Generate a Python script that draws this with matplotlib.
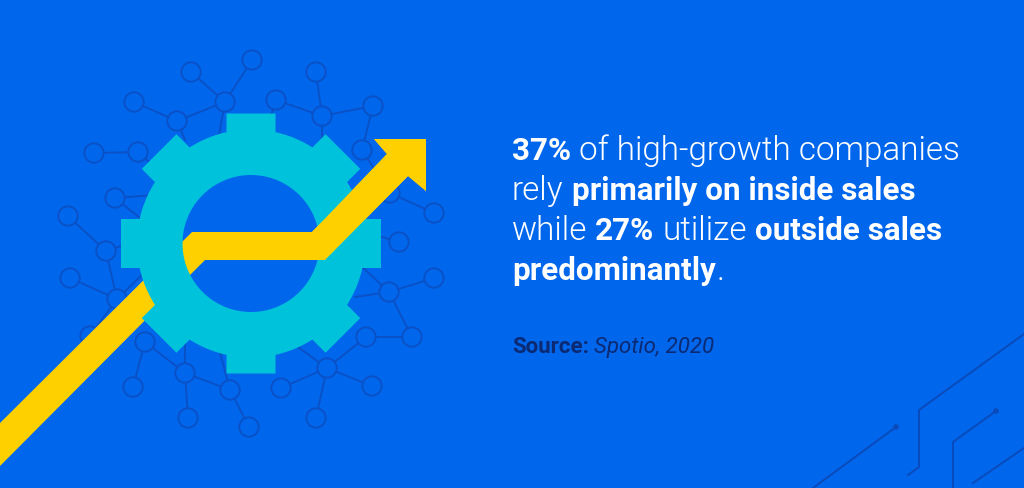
import numpy as np
import matplotlib
matplotlib.use('Agg')
import matplotlib.pyplot as plt
from matplotlib.patches import Circle, PathPatch, Polygon
from matplotlib.path import Path

BG = '#0066EC'
RING = '#0B50C4'
TRACE = '#0A4BBB'
TEAL = '#00C3DB'
YELLOW = '#FFD000'
DARK = '#0B2A73'

# network behind the gear, in picture pixels
nodes = [(191, 72), (225, 102), (252, 60), (134, 102), (177, 121), (94, 153), (138, 152),
         (115, 198), (68, 216), (106, 251), (276, 100), (316, 72), (322, 116), (373, 106),
         (362, 150), (390, 193), (434, 213), (399, 242), (70, 278), (117, 299), (90, 336),
         (145, 342), (133, 387), (185, 373), (188, 418), (230, 390), (249, 427), (434, 278),
         (389, 292), (412, 337), (366, 337), (327, 368), (281, 388), (372, 386), (316, 418)]
links = [((191, 72), (225, 102)), ((252, 60), (225, 102)), ((225, 102), (177, 121)),
         ((134, 102), (177, 121)), ((225, 102), (219, 135)), ((177, 121), (185, 140)),
         ((94, 153), (138, 152)), ((138, 152), (158, 170)), ((115, 198), (155, 195)),
         ((115, 198), (145, 222)), ((68, 216), (106, 251)), ((106, 251), (130, 243)),
         ((276, 100), (322, 116)), ((276, 100), (268, 125)), ((316, 72), (322, 116)),
         ((322, 116), (373, 106)), ((322, 116), (322, 145)), ((373, 106), (362, 150)),
         ((362, 150), (390, 193)), ((390, 193), (434, 213)), ((399, 242), (375, 235)),
         ((106, 251), (117, 299)), ((70, 278), (117, 299)), ((117, 299), (145, 272)),
         ((117, 299), (90, 336)), ((145, 342), (185, 373)), ((145, 342), (133, 387)),
         ((185, 373), (188, 418)), ((185, 373), (230, 390)), ((185, 373), (185, 340)),
         ((230, 390), (218, 345)), ((230, 390), (249, 427)), ((434, 278), (389, 292)),
         ((389, 292), (412, 337)), ((412, 337), (366, 337)), ((366, 337), (327, 368)),
         ((389, 292), (355, 297)), ((389, 292), (360, 265)), ((327, 368), (281, 388)),
         ((327, 368), (372, 386)), ((327, 368), (316, 418)), ((327, 368), (295, 345))]

# gear
gear_center = (251, 243.5)
gear_teeth = 8
gear_outer = 130
gear_body = 114
gear_hole = 68.5
tooth_half = 24.5

# arrow outline
arrow = [(0, 423), (192, 232), (312, 232), (387, 154), (374, 139), (426, 139), (426, 191),
         (408, 176), (325, 260), (205, 260), (0, 466)]
arrow_front = [(250, 232), (312, 232), (387, 154), (374, 139), (426, 139), (426, 191),
               (408, 176), (325, 260), (250, 260)]

# circuit traces, bottom right
traces = [[(1024, 334), (919, 410), (919, 467), (908, 475)],
          [(996, 411), (953, 442), (953, 488)],
          [(896, 427), (813, 488)],
          [(1024, 448), (973, 483)]]
trace_dots = [(996, 411), (896, 427)]

# text, one list of (string, bold) runs per line
text_lines = [[('37%', True), ('of high-growth companies', False)],
              [('rely', False), ('primarily on inside sales', True)],
              [('while', False), ('27%', True), ('utilize', False), ('outside sales', True)],
              [('predominantly', True), ('.', False)]]
line_baselines = [160, 200, 240, 280]
source_label = 'Source:'
source_name = 'Spotio, 2020'


def gear_path():
    cx, cy = gear_center
    verts = []
    for i in range(gear_teeth):
        a = 2 * np.pi * i / gear_teeth
        step = np.pi / gear_teeth
        u = np.array([np.cos(a), np.sin(a)])
        v = np.array([-u[1], u[0]])
        root = np.sqrt(gear_body ** 2 - tooth_half ** 2)
        verts.append(u * root - v * tooth_half)
        verts.append(u * gear_outer - v * tooth_half)
        verts.append(u * gear_outer + v * tooth_half)
        verts.append(u * root + v * tooth_half)
        # body arc up to the next tooth
        start = a + np.arcsin(tooth_half / gear_body)
        end = a + 2 * step - np.arcsin(tooth_half / gear_body)
        for t in np.linspace(start, end, 12):
            verts.append(np.array([np.cos(t), np.sin(t)]) * gear_body)
    verts = [(p[0] + cx, p[1] + cy) for p in verts]
    t = np.linspace(0, -2 * np.pi, 120)
    hole = list(zip(cx + gear_hole * np.cos(t), cy + gear_hole * np.sin(t)))
    codes = [Path.MOVETO] + [Path.LINETO] * (len(verts) - 1) + [Path.CLOSEPOLY]
    codes += [Path.MOVETO] + [Path.LINETO] * (len(hole) - 1) + [Path.CLOSEPOLY]
    return Path(verts + [verts[0]] + hole + [hole[0]], codes)


fig = plt.figure(figsize=(10.24, 4.88), dpi=100, facecolor=BG)
ax = fig.add_axes([0, 0, 1, 1])
ax.set_xlim(0, 1024)
ax.set_ylim(488, 0)
ax.axis('off')

# Network
for a, b in links:
    ax.plot([a[0], b[0]], [a[1], b[1]], color=RING, lw=1.3, zorder=1)
for n in nodes:
    ax.add_patch(Circle(n, 9.7, fc=BG, ec=RING, lw=1.3, zorder=2))

# Traces
for t in traces:
    ax.plot(*zip(*t), color=TRACE, lw=1.4, zorder=1)
for d in trace_dots:
    ax.add_patch(Circle(d, 2.8, fc=TRACE, ec='none', zorder=1))

# Arrow runs behind the gear on the left, over it on the right
ax.add_patch(Polygon(arrow, closed=True, fc=YELLOW, ec='none', zorder=3))
ax.add_patch(PathPatch(gear_path(), fc=TEAL, ec='none', zorder=4))
ax.add_patch(Polygon(arrow_front, closed=True, fc=YELLOW, ec='none', zorder=5))

# Text
renderer = fig.canvas.get_renderer()
BOLD_PX = 31.4
LIGHT_PX = 33.3
SPACE = 8


def put_run(x, y, s, weight, size, color, style='normal'):
    t = ax.text(x, y, s, family='Roboto', weight=weight, style=style, fontsize=size,
                color=color, va='baseline', ha='left', zorder=6)
    return x + t.get_window_extent(renderer).width


for runs, y in zip(text_lines, line_baselines):
    x = 512
    for i, (s, bold) in enumerate(runs):
        if bold:
            x = put_run(x, y, s, 'bold', BOLD_PX * 0.72, 'white')
        else:
            x = put_run(x, y, s, 300, LIGHT_PX * 0.72, 'white')
        if i + 1 < len(runs) and runs[i + 1][0] != '.':
            x += SPACE
        elif i + 1 < len(runs):
            x += 1

x = put_run(512, 353, source_label, 'bold', 22.3 * 0.72, DARK)
put_run(x + 5, 353, source_name, 400, 22.3 * 0.72, DARK, style='italic')

fig.savefig('out.png', dpi=100, facecolor=BG)
